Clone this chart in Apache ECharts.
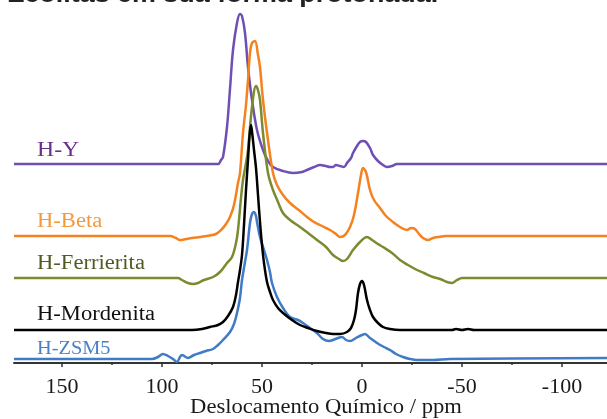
<!DOCTYPE html>
<html>
<head>
<meta charset="utf-8">
<script src="https://cdn.jsdelivr.net/npm/echarts@6/dist/echarts.min.js"></script>
<style>
  html, body { margin: 0; padding: 0; background: #fff; }
  #chart { width: 607px; height: 419px; }
</style>
</head>
<body>
<div id="chart"></div>
<script>
// ppm / altura (espectros empilhados, unidades do desenho)
var hyPpm = [174, 72, 70.5, 69.5, 67.5, 66, 64.5, 62.5, 61, 60, 58.5, 57, 55, 52.5, 49.5, 47, 44.5, 39.5, 34.5, 30, 27.5, 24, 21, 18, 16, 14.5, 13, 11, 9, 7.5, 5.5, 4.5, 2.5, 1, -0.5, -2, -4, -5.5, -8, -10.5, -12.5, -15, -17.5, -122.5];
var hyVal = [199, 199, 203, 206, 236, 274, 313, 340, 349, 347, 330, 296, 263, 233, 213, 202, 196, 192, 190, 191, 193, 196, 198, 197, 196, 196, 198, 197, 196, 200, 205, 210, 217, 221, 222, 221, 215, 208, 202, 198, 196, 197, 199, 199];

var betaPpm = [174, 96, 93, 91, 88, 85, 81, 77.5, 73, 70, 68, 66, 64, 62, 61, 59.5, 58, 57, 56, 55, 53.5, 52, 51, 49.5, 47, 44.5, 42.5, 39.5, 36, 31, 27.5, 24, 21, 19, 16, 13, 11, 8.5, 6, 4, 2, 0.5, -0.5, -2, -4, -6, -9, -12, -15.5, -19, -22.5, -24.5, -26.5, -28.5, -30.5, -33, -35.5, -38, -42, -122.5];
var betaVal = [127, 127, 125, 123, 124, 125, 126, 127, 129, 134, 139, 146, 158, 180, 190, 230, 258, 283, 310, 320, 322, 308, 296, 263, 223, 190, 178, 168, 160, 152, 146, 141, 138, 136, 133, 129, 126, 128, 136, 148, 170, 188, 195, 191, 173, 163, 155, 147, 141, 136, 133, 135, 134, 129, 125, 123, 125, 126, 127, 127];

var ferPpm = [174, 92, 90, 87, 84.5, 82, 79, 74.5, 71, 67.5, 65, 63, 62, 60.5, 59.5, 58, 57, 55, 53, 52, 51, 49.5, 47, 44.5, 42, 39.5, 36, 31, 27, 22.5, 18, 14.5, 11.5, 9.5, 7.5, 4.5, 1, -2.5, -5, -8, -10.5, -15, -19, -23, -27.5, -31, -35.5, -39, -42.5, -45, -47.5, -50, -122.5];
var ferVal = [85, 85, 83, 80, 79, 80, 83, 86, 91, 100, 106, 120, 133, 165, 183, 200, 213, 256, 277, 273, 263, 230, 190, 173, 161, 150, 143, 136, 130, 123, 116, 108, 104, 102, 104, 113, 121, 126, 123, 119, 116, 110, 103, 98, 93, 90, 86, 84, 81, 80, 83, 85, 85];

var morPpm = [174, 85, 80, 76, 72, 69.5, 67, 64.5, 63, 62, 61, 60, 59, 58, 57, 56.2, 55.5, 54.8, 54, 53, 52, 51, 50, 49, 47.5, 46, 44.5, 42, 39.5, 35, 31, 27, 22.5, 18, 14.5, 11, 7.5, 5.5, 4, 3, 2, 1, 0, -1, -2.5, -4, -5.5, -8, -10.5, -14, -19, -45, -47, -50, -53, -56, -122.5];
var morVal = [33, 33, 34, 36, 38, 41, 47, 56, 68, 81, 93, 108, 138, 173, 203, 228, 238, 228, 213, 195, 168, 141, 118, 100, 81, 71, 63, 55, 50, 43, 38, 35, 32, 30, 29, 29, 31, 35, 43, 53, 70, 79, 82, 78, 63, 53, 46, 40, 36, 34, 33, 33, 34, 33, 34, 33, 33];

var zsmPpm = [174, 105, 102, 99.5, 97, 94.5, 92.5, 91, 90, 87, 84, 81, 78, 74.5, 72, 69.5, 66, 64, 62.5, 61, 60, 58.5, 57.5, 56, 55, 54, 53, 52.5, 51, 49, 47.5, 46, 45, 42.5, 39.5, 36, 32, 29.5, 26, 22.5, 19.5, 16.5, 14.5, 12, 10, 8, 6, 3, 0, -1.5, -4, -7.5, -11, -14, -17, -20.5, -24, -27.5, -35.5, -44, -122.5];
var zsmVal = [4, 4, 6, 9, 7, 4, 1, 6, 8, 5, 8, 10, 12, 14, 18, 23, 31, 39, 50, 65, 83, 101, 113, 140, 149, 151, 147, 141, 126, 113, 103, 91, 80, 66, 55, 46, 43, 40, 35, 30, 24, 22, 23, 25, 26, 23, 22, 25, 28, 29, 25, 20, 16, 13, 9, 6, 4, 3, 3, 4, 5];

var majorTicks = [150, 100, 50, 0, -50, -100];
var minorTicks = [125, 75, 25, -25, -75];

function pairs(ppm, val) {
    var out = [];
    for (var i = 0; i < ppm.length; i++) out.push([ppm[i], val[i]]);
    return out;
}

var chart = echarts.init(document.getElementById('chart'));

function serie(name, ppm, val, color) {
    return {
        name: name,
        type: 'line',
        data: pairs(ppm, val),
        showSymbol: false,
        smooth: 0.35,
        lineStyle: { color: color, width: 2.5 },
        xAxisIndex: 0
    };
}

function label(text, x, y, size, color) {
    return {
        type: 'text', x: x, y: y, scaleX: 1.13,
        style: {
            text: text, x: 0, y: 0, verticalAlign: 'middle',
            fontFamily: 'Liberation Serif', fontSize: size, fill: color
        }
    };
}

var option = {
    animation: false,
    grid: { left: 14, right: 0, top: 0, bottom: 56 },
    xAxis: [{
        type: 'value', inverse: true, min: -122.5, max: 174,
        splitLine: { show: false },
        axisLine: { onZero: false, lineStyle: { color: '#333', width: 2 } },
        axisTick: { customValues: majorTicks, length: 4, lineStyle: { color: '#333', width: 1.5 } },
        axisLabel: {
            customValues: majorTicks, margin: 13,
            fontFamily: 'Liberation Serif', fontSize: 22, color: '#1a1a1a'
        }
    }, {
        type: 'value', inverse: true, min: -122.5, max: 174, position: 'bottom',
        splitLine: { show: false },
        axisLine: { show: false },
        axisTick: { customValues: minorTicks, length: 2, lineStyle: { color: '#333', width: 1.5 } },
        axisLabel: { show: false }
    }],
    yAxis: { type: 'value', min: 0, max: 363, show: false },
    series: [
        serie('H-Y', hyPpm, hyVal, '#6f4fb3'),
        serie('H-Beta', betaPpm, betaVal, '#f5821f'),
        serie('H-Ferrierita', ferPpm, ferVal, '#7b8b2f'),
        serie('H-ZSM5', zsmPpm, zsmVal, '#3f7bc6'),
        serie('H-Mordenita', morPpm, morVal, '#000000')
    ],
    graphic: [
        {
            type: 'text', x: 8, y: -5, scaleX: 1.12,
            style: {
                text: 'Zeólitas em sua forma protonada.', x: 0, y: 0, verticalAlign: 'middle',
                fontFamily: 'Liberation Sans', fontWeight: 'bold', fontSize: 24, fill: '#222'
            }
        },
        label('H-Y', 37, 150, 21, '#6a2f87'),
        label('H-Beta', 37, 222, 20, '#f39a3e'),
        label('H-Ferrierita', 37, 264, 20, '#4f5b24'),
        label('H-Mordenita', 37, 315, 20, '#111'),
        label('H-ZSM5', 37, 349, 18, '#4a80c4'),
        {
            type: 'text', x: 326, y: 408, scaleX: 1.13,
            style: {
                text: 'Deslocamento Químico / ppm', x: 0, y: 0, align: 'center', verticalAlign: 'middle',
                fontFamily: 'Liberation Serif', fontSize: 20, fill: '#1a1a1a'
            }
        }
    ]
};
chart.setOption(option);
</script>
</body>
</html>
